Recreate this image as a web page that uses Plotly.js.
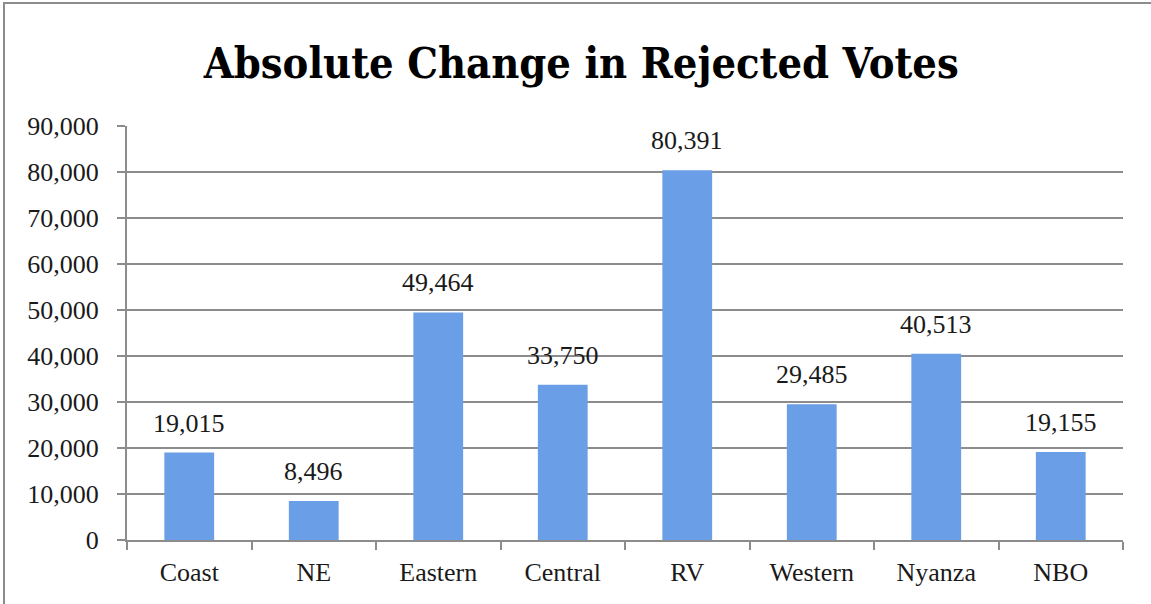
<!DOCTYPE html>
<html>
<head>
<meta charset="utf-8">
<script src="https://cdn.plot.ly/plotly-3.0.1.min.js"></script>
<style>
  html, body { margin: 0; padding: 0; background: #fff; }
  #wrap { position: relative; width: 1151px; height: 604px; overflow: hidden; }
  #chart { width: 1151px; height: 604px; }
  #frame { position: absolute; left: 3px; top: 2px; width: 1160px; height: 620px;
           border: 2px solid #8c8c8c; box-sizing: border-box; pointer-events: none; }
</style>
</head>
<body>
<div id="wrap">
  <div id="chart"></div>
  <div id="frame"></div>
</div>
<script>
const categories = ["Coast", "NE", "Eastern", "Central", "RV", "Western", "Nyanza", "NBO"];
const values = [19015, 8496, 49464, 33750, 80391, 29485, 40513, 19155];
const tickValues = [0, 10000, 20000, 30000, 40000, 50000, 60000, 70000, 80000, 90000];
const tickLabels = ["0", "10,000", "20,000", "30,000", "40,000", "50,000", "60,000", "70,000", "80,000", "90,000"];
const titleText = "Absolute Change in Rejected Votes";

const labelFont = { family: "Liberation Serif, Times New Roman, serif", size: 26, color: "#1a1a1a" };
const gray = "#8c8c8c";

const trace = {
  type: "bar",
  x: categories,
  y: values,
  marker: { color: "#6a9ee6", line: { width: 0 } },
  hoverinfo: "x+y"
};

const annotations = categories.map((c, i) => ({
  x: c, y: values[i], xref: "x", yref: "y",
  text: values[i].toLocaleString("en-US"),
  showarrow: false, yanchor: "bottom", yshift: 13,
  font: labelFont
}));

const layout = {
  width: 1151, height: 604,
  margin: { l: 127, r: 28, t: 126, b: 64 },
  paper_bgcolor: "#ffffff",
  plot_bgcolor: "#ffffff",
  bargap: 0.6,
  showlegend: false,
  title: {
    text: "<b>" + titleText + "</b>",
    font: { family: "DejaVu Serif Condensed, DejaVu Serif, serif", size: 43, color: "#000" },
    x: 0.505, xanchor: "center", y: 0.895, yanchor: "middle"
  },
  xaxis: {
    type: "category",
    tickson: "boundaries",
    ticks: "outside", ticklen: 8, tickwidth: 2, tickcolor: gray,
    showline: true, linecolor: gray, linewidth: 2,
    showgrid: false,
    tickfont: labelFont,
    ticklabelstandoff: 8,
    fixedrange: true
  },
  yaxis: {
    range: [0, 90000],
    tickvals: tickValues, ticktext: tickLabels,
    ticks: "outside", ticklen: 8, tickwidth: 2, tickcolor: gray,
    showline: true, linecolor: gray, linewidth: 2,
    showgrid: true, gridcolor: gray, gridwidth: 2,
    zeroline: false,
    tickfont: labelFont,
    ticklabelstandoff: 13,
    fixedrange: true
  },
  annotations: annotations
};

Plotly.newPlot("chart", [trace], layout, { displayModeBar: false, staticPlot: true });
</script>
</body>
</html>
